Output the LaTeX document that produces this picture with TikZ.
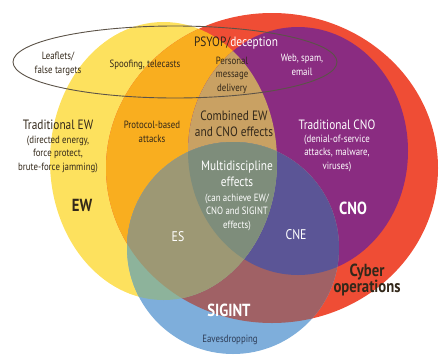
\documentclass[tikz,border=0pt]{standalone}
\usepackage{fontspec}
\setmainfont{PT Sans}[FakeStretch=0.84]
\usepackage{xcolor}

\definecolor{ewyellow}{HTML}{FDE15E}
\definecolor{cyred}{HTML}{EF4D35}
\definecolor{ewcyorange}{HTML}{F9AE1F}
\definecolor{cnopurple}{HTML}{8A2C81}
\definecolor{ewcnotan}{HTML}{C9A163}
\definecolor{sigblue}{HTML}{7EAEDB}
\definecolor{ewsigteal}{HTML}{8DB39B}
\definecolor{esolive}{HTML}{9D9874}
\definecolor{multigrey}{HTML}{7E8D7B}
\definecolor{cneblue}{HTML}{5B5596}
\definecolor{sigmauve}{HTML}{A06165}
\definecolor{darktext}{HTML}{33281A}
\definecolor{eavestext}{HTML}{2E3D57}

% the four sets
\newcommand{\ewpath}{(163.5,161) ellipse [x radius=113.5pt, y radius=139pt]}
\newcommand{\cyberpath}{(272,168) ellipse [x radius=166pt, y radius=155pt]}
\newcommand{\cnopath}{(298,151) ellipse [x radius=110pt, y radius=124pt]}
\newcommand{\sigintpath}{(233,248) circle [radius=106pt]}

\tikzset{
  lbl/.style={align=center, inner sep=0pt, text=darktext,
    font=\fontsize{10.5}{13.5}\selectfont},
  wlbl/.style={lbl, text=white},
  bigtxt/.style={font=\fontsize{13.5}{16.5}\selectfont},
  midtxt/.style={font=\fontsize{14}{16}\selectfont},
  hugetxt/.style={font=\fontsize{17.5}{16.5}\selectfont\bfseries},
}

\begin{document}
\begin{tikzpicture}[x=1pt,y=-1pt]
  \useasboundingbox (0,0) rectangle (439,357);

  % EW and cyber operations
  \fill[ewyellow] \ewpath;
  \fill[cyred] \cyberpath;
  \begin{scope}
    \clip \ewpath;
    \fill[ewcyorange] \cyberpath;
  \end{scope}
  % CNO
  \fill[cnopurple] \cnopath;
  \begin{scope}
    \clip \ewpath;
    \fill[ewcnotan] \cnopath;
  \end{scope}
  % SIGINT
  \fill[sigblue] \sigintpath;
  \begin{scope}
    \clip \sigintpath;
    \fill[sigmauve] \cyberpath;
    \fill[cneblue] \cnopath;
    \fill[ewsigteal] \ewpath;
    \clip \ewpath;
    \fill[esolive] \cyberpath;
    \fill[multigrey] \cnopath;
  \end{scope}

  % PSYOP/deception
  \draw[darktext!80, line width=0.9pt] (175,62) ellipse [x radius=162pt, y radius=36pt];

  \node[lbl] (leaflets) at (58,64) {Leaflets/\\false targets};
  \node[lbl] (spoofing) at (145,65) {Spoofing, telecasts};
  \node[lbl, bigtxt] (psyop) at (236,43) {PSYOP/\textcolor{white}{deception}};
  \node[lbl] (personal) at (232,75) {Personal\\message\\delivery};
  \node[wlbl] (web) at (302,65) {Web, spam,\\email};

  \node[lbl, bigtxt] (tradew) at (58,125) {Traditional EW};
  \node[lbl] (tradewsub) at (58,154) {(directed energy,\\force protect,\\brute-force jamming)};
  \node[lbl] (protocol) at (152,132) {Protocol-based\\attacks};
  \node[lbl, bigtxt] (combined) at (234,124) {Combined EW\\and CNO effects};
  \node[wlbl, bigtxt] (tradcno) at (337,125) {Traditional CNO};
  \node[wlbl] (tradcnosub) at (337,153) {(denial-of-service\\attacks, malware,\\viruses)};

  \node[wlbl, bigtxt] (multi) at (237,174) {Multidiscipline\\effects};
  \node[wlbl] (multisub) at (237,212) {(can achieve EW/\\CNO and SIGINT\\effects)};

  \node[lbl, hugetxt] (ew) at (82,205) {EW};
  \node[wlbl, midtxt] (es) at (178,237) {ES};
  \node[wlbl, midtxt] (cne) at (296,235) {CNE};
  \node[wlbl, hugetxt] (cno) at (353,208) {CNO};
  \node[lbl, hugetxt] (cyber) at (367,280) {Cyber\\operations};
  \node[wlbl, hugetxt] (sigint) at (229,310) {SIGINT};
  \node[lbl, text=eavestext] (eaves) at (230,340) {Eavesdropping};
\end{tikzpicture}
\end{document}
